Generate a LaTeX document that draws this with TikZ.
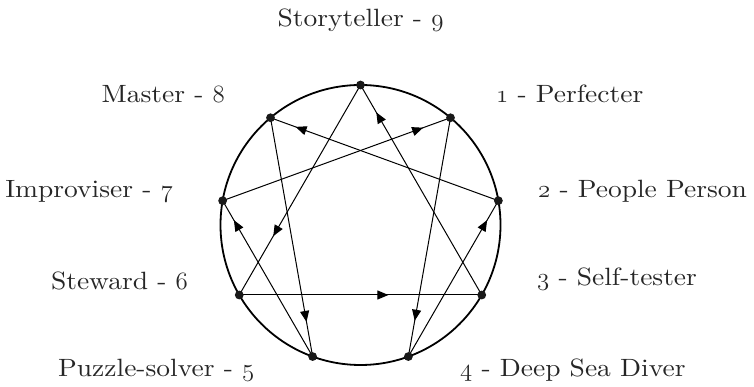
\documentclass[tikz,border=0pt]{standalone}
\usepackage{fontspec}
\setmainfont{lmroman10-regular.otf}[FakeStretch=1.1]
\usetikzlibrary{arrows.meta,decorations.markings,calc}
\newcommand\osn[1]{{\fontencoding{OML}\fontfamily{lmm}\fontseries{m}\fontshape{it}\selectfont #1}}
\tikzset{
  ring/.style={line width=1.8pt},
  chord/.style={line width=1pt},
  dotmark/.style={fill=black!90},
  lbl/.style={inner sep=0pt,font=\fontsize{25}{29}\selectfont,text=black!85},
  tipat/.style={postaction={decorate},decoration={markings,
     mark=at position #1 with {\arrow{Triangle[length=11pt,width=9pt]}}}}
}
\begin{document}
\begin{tikzpicture}[x=1pt,y=1pt]
\useasboundingbox (0,0) rectangle (754,387);
\coordinate (c) at (360.5,162);
\draw[ring] (c) circle[radius=140];
\foreach \n/\a in {9/90,1/50,2/10,3/-30,4/-70,5/-110,6/-150,7/170,8/130}
  \coordinate (p\n) at ($(c)+(\a:140)$);
% triangle
\draw[chord,tipat=0.72] (p9) -- (p6);
\draw[chord,tipat=0.615] (p6) -- (p3);
\draw[chord,tipat=0.87] (p3) -- (p9);
% hexad
\draw[chord,tipat=0.85] (p1) -- (p4);
\draw[chord,tipat=0.875] (p4) -- (p2);
\draw[chord,tipat=0.89] (p2) -- (p8);
\draw[chord,tipat=0.855] (p8) -- (p5);
\draw[chord,tipat=0.875] (p5) -- (p7);
\draw[chord,tipat=0.88] (p7) -- (p1);
\foreach \n in {1,...,9} \fill[dotmark] (p\n) circle[radius=4.4];
% labels
\node[lbl,anchor=base] (l9) at (360.5,360) {Storyteller - \osn{9}};
\node[lbl,anchor=base east] (l8) at (225,284) {Master - \osn{8}};
\node[lbl,anchor=base west] (l1) at (496,284) {\osn{1} - Perfecter};
\node[lbl,anchor=base east] (l7) at (173,189) {Improviser - \osn{7}};
\node[lbl,anchor=base west] (l2) at (538,189) {\osn{2} - People Person};
\node[lbl,anchor=base east] (l6) at (188,97) {Steward - \osn{6}};
\node[lbl,anchor=base west] (l3) at (537,101) {\osn{3} - Self-tester};
\node[lbl,anchor=base west] (l5) at (58,10) {Puzzle-solver - \osn{5}};
\node[lbl,anchor=base west] (l4) at (460,10) {\osn{4} - Deep Sea Diver};
\end{tikzpicture}
\end{document}
